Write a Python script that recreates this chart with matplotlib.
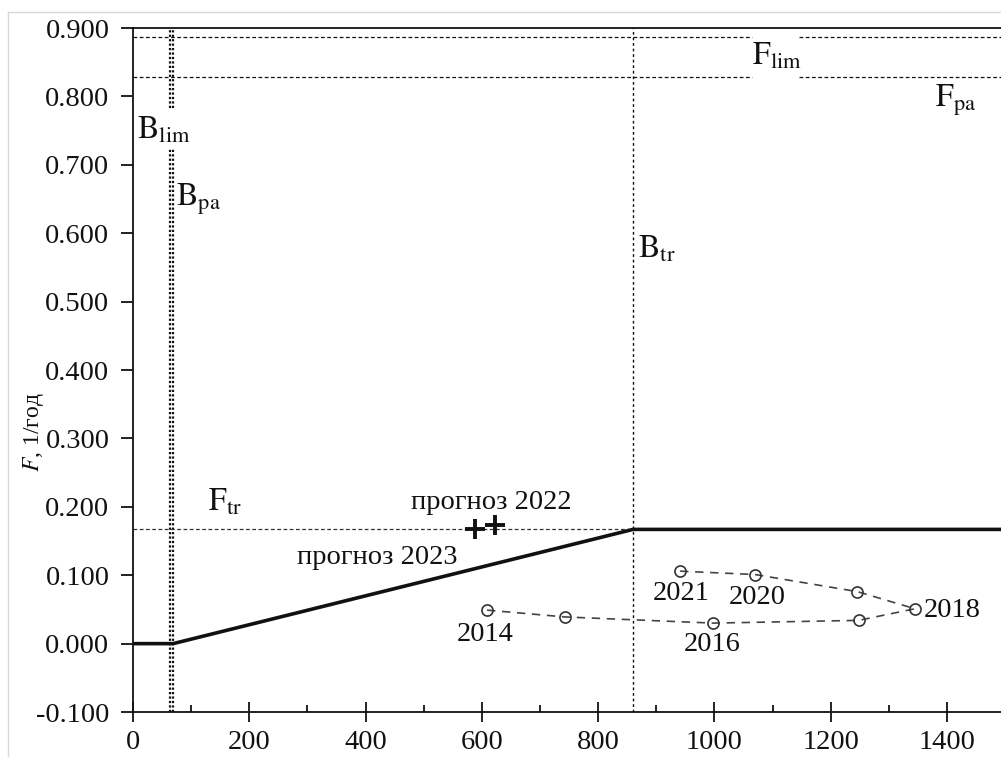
import numpy as np
import matplotlib.pyplot as plt
from matplotlib.lines import Line2D

plt.rcParams['font.family'] = ['Liberation Serif', 'DejaVu Serif']
plt.rcParams['mathtext.fontset'] = 'stix'

# Reference points
B_lim = 63
B_pa = 69
B_tr = 860
F_lim = 0.887
F_pa = 0.828
F_tr = 0.167

# Stock / fishing mortality by year
years = [2014, 2015, 2016, 2017, 2018, 2019, 2020, 2021]
biomass = [609, 743, 998, 1248, 1345, 1246, 1070, 940]
f_rate = [0.049, 0.039, 0.030, 0.034, 0.051, 0.076, 0.101, 0.106]
labelled = [2014, 2016, 2018, 2020, 2021]

# Forecasts
fc_years = [2022, 2023]
fc_biomass = [623, 588]
fc_f = [0.173, 0.167]

xmax = 1493
ink = '#111111'

fig = plt.figure(figsize=(10.01, 7.57), dpi=100)
ax = fig.add_axes([0.1329, 0.0594, 0.8671, 0.9036])
ax.set_xlim(0, xmax)
ax.set_ylim(-0.1, 0.9)

# B_lim / B_pa: double dotted vertical with a gap for the label
gap_lo, gap_hi = 0.725, 0.783
for b in (B_lim, B_pa):
    ax.plot([b, b], [-0.1, gap_lo], color=ink, ls=(0, (1, 1)), lw=1.6)
    ax.plot([b, b], [gap_hi, 0.9], color=ink, ls=(0, (1, 1)), lw=1.6)

ax.axvline(B_tr, color=ink, ls=(0, (2, 2)), lw=1.0)

# F_lim / F_pa with a gap for the F_lim label
f_gap = (1065, 1146)
for f in (F_lim, F_pa):
    ax.plot([0, f_gap[0]], [f, f], color=ink, ls=(0, (3, 2)), lw=0.9)
    ax.plot([f_gap[1], xmax], [f, f], color=ink, ls=(0, (3, 2)), lw=0.9)
ax.plot([0, B_tr], [F_tr, F_tr], color='#333333', ls=(0, (3, 2)), lw=0.9)

# harvest control rule
ax.plot([0, B_pa, B_tr, xmax], [0, 0, F_tr, F_tr], color=ink, lw=2.6,
        solid_capstyle='butt')

# history
ax.plot(biomass, f_rate, color='#444444', ls=(0, (5, 4)), lw=1.2,
        marker='o', ms=8, mfc='none', mec='#333333', mew=1.2)

# forecasts
ax.plot(fc_biomass, fc_f, ls='none', marker='+', ms=14, mew=2.8, color=ink)

ts = 23
ax.text(7, 0.751, r'$\mathrm{B_{lim}}$', fontsize=ts, va='center', color=ink)
ax.text(74, 0.649, r'$\mathrm{B_{pa}}$', fontsize=ts, va='center', color=ink)
ax.text(869, 0.576, r'$\mathrm{B_{tr}}$', fontsize=ts, va='center', color=ink)
ax.text(129, 0.206, r'$\mathrm{F_{tr}}$', fontsize=ts, va='center', color=ink)
ax.text(1065, 0.858, r'$\mathrm{F_{lim}}$', fontsize=ts, va='center', color=ink)
ax.text(1379, 0.795, r'$\mathrm{F_{pa}}$', fontsize=ts, va='center', color=ink)

year_pos = {2014: (605, 0.014), 2016: (996, -0.002), 2018: (1410, 0.048),
            2020: (1073, 0.068), 2021: (943, 0.074)}
for y in labelled:
    px, py = year_pos[y]
    ax.text(px, py, str(y), fontsize=20.5, ha='center', va='center', color=ink)

ax.text(617, 0.206, f'прогноз {fc_years[0]}', fontsize=20.5, ha='center',
        va='center', color=ink)
ax.text(420, 0.126, f'прогноз {fc_years[1]}', fontsize=20.5, ha='center',
        va='center', color=ink)

# axes styling
ax.spines['right'].set_visible(False)
for s in ('left', 'bottom', 'top'):
    ax.spines[s].set_color(ink)
    ax.spines[s].set_linewidth(1.3)

ax.set_xticks(np.arange(0, 1401, 200))
ax.set_xticks(np.arange(100, 1401, 200), minor=True)
ax.set_yticks(np.arange(-0.1, 0.901, 0.1))
ax.set_yticklabels([f'{v:.3f}' for v in np.arange(-0.1, 0.901, 0.1)])
ax.tick_params(axis='x', which='major', direction='inout', length=14,
               width=1.3, labelsize=20.5, pad=6, colors=ink)
ax.tick_params(axis='x', which='minor', direction='in', length=5,
               width=1.3, colors=ink)
ax.tick_params(axis='y', which='major', direction='out', length=9,
               width=1.3, labelsize=20.5, pad=8, colors=ink)

fig.text(33 / 1001, 1 - 432 / 757, r'$F$, 1/год', rotation=90,
         ha='center', va='center', fontsize=17, color=ink)

# page frame
fig.add_artist(Line2D([8 / 1001, 1], [1 - 12 / 757, 1 - 12 / 757],
                      transform=fig.transFigure, color='#d8d8d8', lw=1))
fig.add_artist(Line2D([8 / 1001, 8 / 1001], [0, 1 - 12 / 757],
                      transform=fig.transFigure, color='#d8d8d8', lw=1))

fig.savefig('out.png', dpi=100)
